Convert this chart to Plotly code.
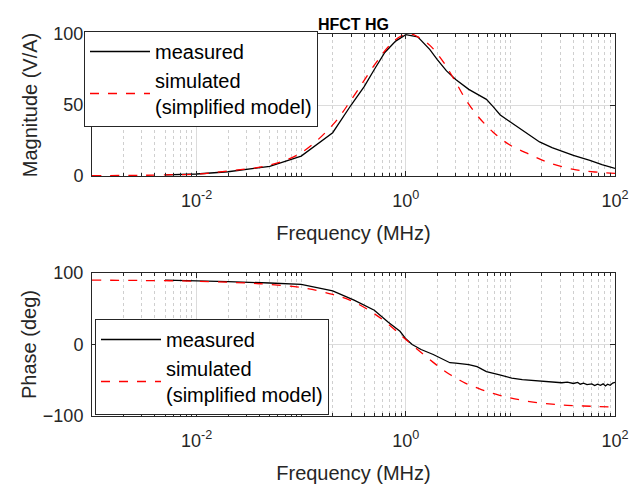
import plotly.graph_objects as go
from plotly.subplots import make_subplots

# ---------------- data ----------------
meas_mag_f = [0.005, 0.01, 0.02, 0.03, 0.05, 0.1, 0.2, 0.3, 0.4, 0.5, 0.63, 0.8, 1.0,
              1.3, 1.7, 2.0, 2.45, 3.0, 4.0, 5.0, 5.9, 6.8, 8.0, 10, 11.5, 15, 19, 25,
              31.6, 40, 57.5, 75, 100]
meas_mag = [0.8, 1.4, 3.0, 4.7, 6.8, 14, 30.5, 50, 63, 75, 87, 95, 99.5,
            98, 89, 82, 74, 68, 61, 57, 54, 49, 43, 38, 35, 29, 24, 20,
            17, 14.5, 11, 8, 5.4]

sim_mag_f = [0.001, 0.003, 0.005, 0.01, 0.02, 0.05, 0.1, 0.2, 0.3, 0.5, 0.7, 0.9, 1.13,
             1.3, 1.7, 2.3, 2.95, 3.8, 4.9, 6.8, 9.8, 15.5, 24, 42.6, 70, 100]
sim_mag = [0.2, 0.5, 0.8, 1.4, 3.5, 7.7, 16.4, 36, 53.5, 78, 92, 98.5, 100,
           98, 92, 80, 67, 53, 42, 31, 22, 15, 9, 4.3, 2.6, 1.9]

meas_ph_f = [0.005, 0.01, 0.02, 0.05, 0.1, 0.2, 0.32, 0.5, 0.68, 0.88, 1.0, 1.15, 1.4,
             1.83, 2.3, 2.64, 3.0, 3.43, 4.0, 4.8, 5.9, 7.9, 10.3, 13, 16.5, 21, 24,
             27.6, 31, 35, 40, 44, 46.5, 50, 54, 60, 64, 68, 72.6, 77, 81, 85, 90, 95, 100]
meas_ph = [90, 89.5, 88, 86, 84, 75, 62, 48, 31, 18.5, 8, 0, -7,
           -14, -21, -25.5, -26, -26.5, -28, -31, -38, -42.5, -47, -49, -50, -51, -51.5,
           -52, -53.5, -52.5, -54.5, -53, -55.5, -54, -56, -55, -57.5, -55.5, -57, -55, -58, -55.5, -57, -54, -53]

sim_ph_f = [0.001, 0.003, 0.01, 0.03, 0.05, 0.1, 0.2, 0.32, 0.5, 0.7, 0.88, 1.0, 1.2,
            1.45, 1.83, 2.2, 2.64, 3.2, 3.7, 4.5, 6.0, 7.9, 11, 16.5, 25, 35, 50, 70, 100]
sim_ph = [90, 89.5, 88.5, 86, 84, 79.6, 70, 59.5, 43, 27, 14, 7, -3,
          -13, -25, -34, -42, -49, -54, -59, -66, -71, -76, -80.5, -83.5, -85, -86, -86.8, -87.5]

x_tickvals = [1e-2, 1, 1e2]
x_ticktext = ["10<sup>-2</sup>", "10<sup>0</sup>", "10<sup>2</sup>"]
minor_vals = [m * 10.0 ** e for e in range(-3, 2) for m in range(2, 11)]
mag_ticks = [0, 50, 100]
ph_ticks = [-100, 0, 100]

# ---------------- figure ----------------
FONT = "Liberation Sans, Arial, sans-serif"
AX = "#262626"

fig = make_subplots(rows=2, cols=1, vertical_spacing=0.0)

fig.add_trace(go.Scatter(x=meas_mag_f, y=meas_mag, mode="lines", name="measured",
                         line=dict(color="black", width=1.3), legend="legend"), row=1, col=1)
fig.add_trace(go.Scatter(x=sim_mag_f, y=sim_mag, mode="lines",
                         name="simulated<br>(simplified model)",
                         line=dict(color="red", width=1.3, dash="dash", shape="spline"),
                         legend="legend"), row=1, col=1)
fig.add_trace(go.Scatter(x=meas_ph_f, y=meas_ph, mode="lines", name="measured",
                         line=dict(color="black", width=1.3), legend="legend2"), row=2, col=1)
fig.add_trace(go.Scatter(x=sim_ph_f, y=sim_ph, mode="lines",
                         name="simulated<br>(simplified model)",
                         line=dict(color="red", width=1.3, dash="dash", shape="spline"),
                         legend="legend2"), row=2, col=1)

PH = 382.0
TOP_DOM = [(416 - 176) / PH, 1.0]
BOT_DOM = [0.0, (416 - 273) / PH]

xcommon = dict(type="log", range=[-3, 2], tickmode="array", tickvals=x_tickvals,
               ticktext=x_ticktext, ticks="inside", ticklen=5, tickcolor=AX,
               showline=True, linecolor=AX, linewidth=1, mirror="ticks",
               showgrid=True, gridcolor="#dcdcdc", gridwidth=1,
               tickfont=dict(family=FONT, size=18, color=AX), ticklabelstandoff=8,
               minor=dict(tickmode="array", tickvals=minor_vals, ticks="inside",
                          ticklen=3, tickcolor=AX, showgrid=True,
                          gridcolor="#cfcfcf", griddash="dot", gridwidth=1),
               title=dict(text="Frequency (MHz)", font=dict(family=FONT, size=20, color=AX),
                          standoff=16),
               zeroline=False)

ycommon = dict(ticks="inside", ticklen=5, tickcolor=AX, showline=True, linecolor=AX,
               linewidth=1, mirror="ticks", showgrid=True, gridcolor="#dcdcdc",
               tickfont=dict(family=FONT, size=18, color=AX), ticklabelstandoff=4,
               zeroline=False)

fig.update_layout(
    width=629, height=489,
    margin=dict(l=92, r=14, t=34, b=73, autoexpand=False),
    paper_bgcolor="white", plot_bgcolor="white",
    font=dict(family=FONT, color=AX),
    title=dict(text="<b>HFCT HG</b>", x=0.5, xref="paper", y=1 - 24 / 489, yref="container",
               yanchor="middle", font=dict(family=FONT, size=16, color="black")),
    xaxis=dict(domain=[0, 1], anchor="y", **xcommon),
    xaxis2=dict(domain=[0, 1], anchor="y2", **xcommon),
    yaxis=dict(domain=TOP_DOM, range=[0, 100], tickvals=mag_ticks,
               title=dict(text="Magnitude (V/A)", font=dict(family=FONT, size=20, color=AX),
                          standoff=10), **ycommon),
    yaxis2=dict(domain=BOT_DOM, range=[-100, 100], tickvals=ph_ticks,
                title=dict(text="Phase (deg)", font=dict(family=FONT, size=20, color=AX),
                           standoff=0), **ycommon),
    legend=dict(x=-0.0153, xanchor="left", y=(416 - 31) / PH, yanchor="top",
                bgcolor="white", bordercolor=AX, borderwidth=1,
                font=dict(family=FONT, size=20, color="black"), itemwidth=60,
                tracegroupgap=0),
    legend2=dict(x=(95 - 92) / 523, xanchor="left", y=(416 - 319) / PH, yanchor="top",
                 bgcolor="white", bordercolor=AX, borderwidth=1,
                 font=dict(family=FONT, size=20, color="black"), itemwidth=60,
                 tracegroupgap=0),
)

fig.write_html("out.html", config={"displayModeBar": False},
               post_script="document.body.style.margin='0';document.body.style.padding='0';")
